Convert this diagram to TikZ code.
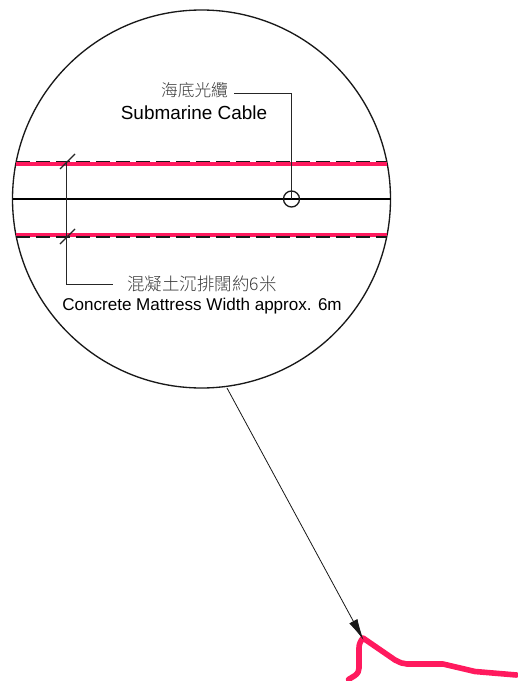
\documentclass[tikz,border=0pt]{standalone}
\usepackage{fontspec}
\setmainfont{Liberation Sans}
\newfontfamily\cjk{Noto Sans CJK TC Light}
\usetikzlibrary{arrows.meta}
\definecolor{rosered}{HTML}{FF1A5E}
\definecolor{cjkgray}{HTML}{3A3A3A}
\tikzset{
  x=0.75pt,y=-0.75pt,
  outline/.style={draw=black!90,line width=1pt},
  redband/.style={draw=rosered,line width=2.8pt},
  dashband/.style={draw=black!90,line width=0.85pt,dash pattern=on 10.5pt off 4.5pt},
  leader/.style={draw=black!85,line width=0.9pt},
  cable/.style={draw=black,line width=2pt},
  shore/.style={draw=rosered,line width=4.2pt,line join=round,line cap=round},
  entext/.style={inner sep=0pt,font=\fontsize{14.2}{16}\selectfont,text=black},
  entextb/.style={inner sep=0pt,font=\fontsize{12.8}{15}\selectfont,text=black},
  zhtext/.style={inner sep=0pt,font=\fontsize{12.5}{14}\cjk,text=cjkgray},
  zhtextb/.style={inner sep=0pt,font=\fontsize{13.1}{15}\cjk,text=cjkgray},
}
\begin{document}
\begin{tikzpicture}
\useasboundingbox (0,0) rectangle (517,681);
\fill[white] (0,0) rectangle (517,681);
\coordinate (c) at (201.5,199);
\draw[outline] (c) circle[radius=189];
\coordinate (ut1) at (16,163.8); \coordinate (ut2) at (387,163.8);
\coordinate (ub1) at (16,161.7); \coordinate (ub2) at (387,161.7);
\coordinate (lt1) at (16,235.2); \coordinate (lt2) at (387,235.2);
\coordinate (lb1) at (16,237); \coordinate (lb2) at (387,237);
\coordinate (m1) at (12.5,199); \coordinate (m2) at (390.5,199);
\draw[redband] (ut1) -- (ut2);
\draw[redband] (lt1) -- (lt2);
\draw[dashband] (ub1) -- (ub2);
\draw[dashband] (lb1) -- (lb2);
\draw[cable] (m1) -- (m2);
\node[zhtext,anchor=center] (zh1) at (194.5,90) {海底光纜};
\node[entext,anchor=center] (en1) at (194,112.5) {Submarine Cable};
\node[zhtextb,anchor=center] (zh2) at (202,284) {混凝土沉排闊約6米};
\node[entextb,anchor=center] (en2) at (202,306.5) {Concrete Mattress Width approx. 6m};
\node[draw=black!90,line width=1pt,circle,minimum size=12pt,inner sep=0pt] (mark) at (291.5,199) {};
\coordinate (l1) at (234,93.5);
\coordinate (l2) at (291.5,93.5);
\draw[leader] (l1) -- (l2) -- (mark.center);
\coordinate (d1) at (66.8,161);
\coordinate (d2) at (66.8,284.5);
\coordinate (d3) at (113,284.5);
\draw[leader] (d1) -- (d2) -- (d3);
\draw[leader] (60,169) -- (75,154);
\draw[leader] (60,244) -- (75,229);
\draw[shore] (348.5,679.5) -- (355,675.5) .. controls (358,673) and (359,671) .. (359,668) -- (359,648) .. controls (359,644) and (360.5,641) .. (363,638) -- (395,660) .. controls (400,662.5) and (403,664) .. (407,664) -- (443,664) -- (475,671.5) -- (516.5,675);
\coordinate (p1) at (227,388);
\coordinate (p2) at (363.5,640);
\draw[draw=black!90,line width=0.6pt,-{Latex[length=16pt,width=7pt]}] (p1) -- (p2);
\end{tikzpicture}
\end{document}
